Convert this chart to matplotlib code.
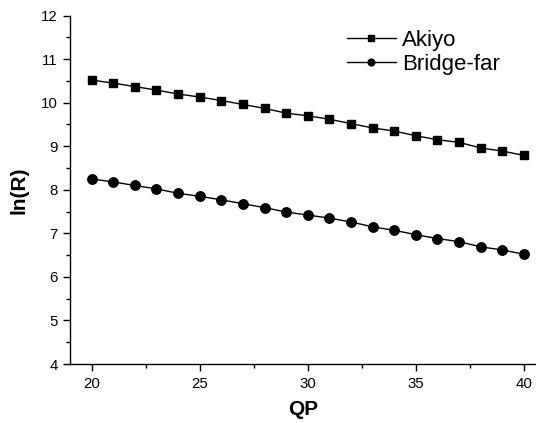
import matplotlib
matplotlib.use("Agg")
import matplotlib.pyplot as plt
from matplotlib.ticker import MultipleLocator

plt.rcParams['font.family'] = ['Liberation Sans', 'DejaVu Sans']

qp = list(range(20, 41))
akiyo = [10.52, 10.45, 10.37, 10.29, 10.20, 10.13, 10.05, 9.96, 9.87, 9.76, 9.70,
         9.62, 9.52, 9.42, 9.35, 9.24, 9.15, 9.09, 8.96, 8.89, 8.79]
bridge_far = [8.25, 8.18, 8.10, 8.02, 7.92, 7.85, 7.77, 7.68, 7.59, 7.49, 7.42,
              7.35, 7.26, 7.15, 7.07, 6.97, 6.88, 6.81, 6.69, 6.62, 6.52]

fig = plt.figure(figsize=(5.36, 4.23), dpi=100)
ax = fig.add_axes([70 / 536, 59 / 423, 466 / 536, 348.4 / 423])

ax.plot(qp, akiyo, color='k', lw=1.0, marker='s', ms=6.2, label='Akiyo')
ax.plot(qp, bridge_far, color='k', lw=1.0, marker='o', ms=6.8, label='Bridge-far')

ax.set_xlim(19, 40.56)
ax.set_ylim(4, 12)
ax.xaxis.set_major_locator(MultipleLocator(5))
ax.xaxis.set_minor_locator(MultipleLocator(2.5))
ax.yaxis.set_major_locator(MultipleLocator(1))
ax.yaxis.set_minor_locator(MultipleLocator(0.5))

for s in ['top', 'right']:
    ax.spines[s].set_visible(False)
for s in ['left', 'bottom']:
    ax.spines[s].set_linewidth(1.0)

ax.tick_params(which='major', direction='out', length=5, width=1.0, labelsize=10.8, pad=4)
ax.tick_params(which='minor', direction='out', length=3, width=1.0)

ax.set_xlabel('QP', fontsize=15, fontweight='bold', labelpad=7)
ax.set_ylabel('ln(R)', fontsize=15, fontweight='bold', labelpad=9)

ax.legend(loc='upper left', bbox_to_anchor=(0.575, 0.985), frameon=False,
          fontsize=16, markerscale=0.72, handlelength=2.2, handletextpad=0.3,
          labelspacing=0.15, borderaxespad=0)

fig.savefig('out.png', dpi=100)
